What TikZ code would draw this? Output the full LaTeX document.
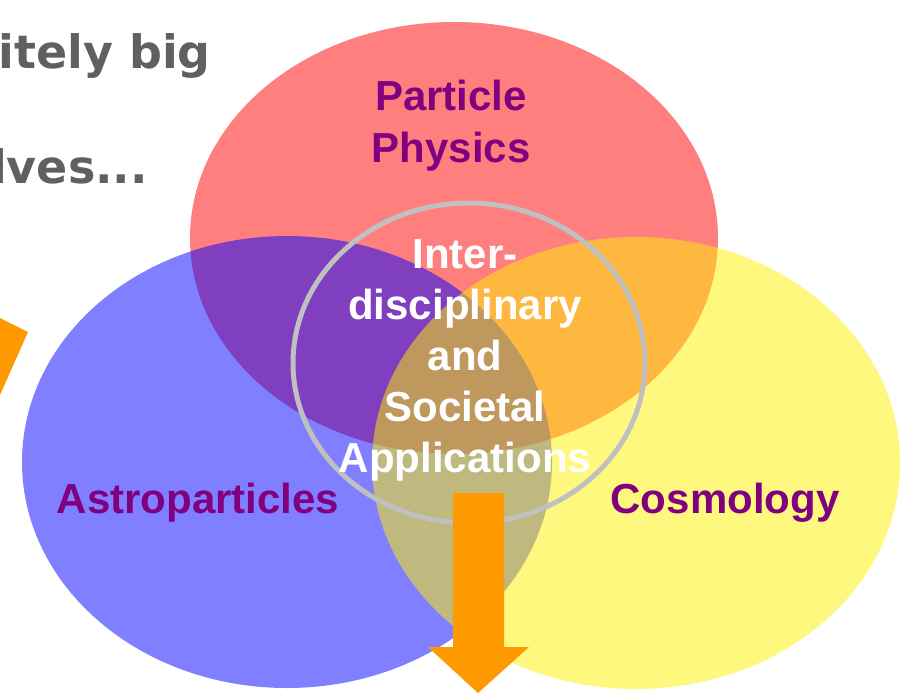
\documentclass[tikz,border=0pt]{standalone}
\usepackage{fontspec}
\setmainfont{Liberation Sans}
\newfontfamily\dvsans{DejaVu Sans}
\definecolor{lblpurple}{RGB}{128,0,128}
\definecolor{txtgray}{RGB}{96,96,96}
\definecolor{ringgray}{RGB}{192,192,192}
\definecolor{arroworange}{RGB}{255,153,0}
\begin{document}
\begin{tikzpicture}[x=1pt,y=-1pt,
  venn/.style={fill opacity=0.5, draw=none},
  lbl/.style={text=lblpurple, font=\fontsize{42}{52}\selectfont\bfseries, align=center, inner sep=0pt},
  centertxt/.style={text=white, font=\fontsize{42}{51}\selectfont\bfseries, align=center, inner sep=0pt},
  bgtxt/.style={text=txtgray, font=\dvsans\fontsize{46}{54}\selectfont\bfseries, inner sep=0pt}]
\useasboundingbox (0,0) rectangle (904,693);
\begin{scope}
\clip (0,0) rectangle (904,693);
% background text fragments
\node[bgtxt, anchor=base east] (t1) at (211,68) {itely big};
\node[bgtxt, anchor=base east] (t2) at (148,183) {lves...};
% left partial orange arrow
\fill[arroworange] (0,318) -- (28,332) -- (0,395) -- cycle;
% Venn ellipses
\fill[venn, red] (454,238) ellipse [x radius=264, y radius=216];
\fill[venn, blue] (287,462) ellipse [x radius=265, y radius=226];
\fill[venn, yellow] (636,463) ellipse [x radius=264, y radius=226];
% ring
\draw[ringgray, line width=5pt] (469,363) ellipse [x radius=176, y radius=160];
% labels
\node[lbl, anchor=base] (pp) at (451,162) {Particle\\Physics};
\node[lbl, anchor=base] (ap) at (198,513) {Astroparticles};
\node[lbl, anchor=base] (cs) at (725,513) {Cosmology};
\node[centertxt, anchor=base] (ia) at (465,472) {Inter-\\disciplinary\\and\\Societal\\Applications};
% down arrow
\fill[arroworange] (453,493) -- (504,493) -- (504,647) -- (529,647) -- (478,693) -- (428,647) -- (453,647) -- cycle;
\end{scope}
\end{tikzpicture}
\end{document}
